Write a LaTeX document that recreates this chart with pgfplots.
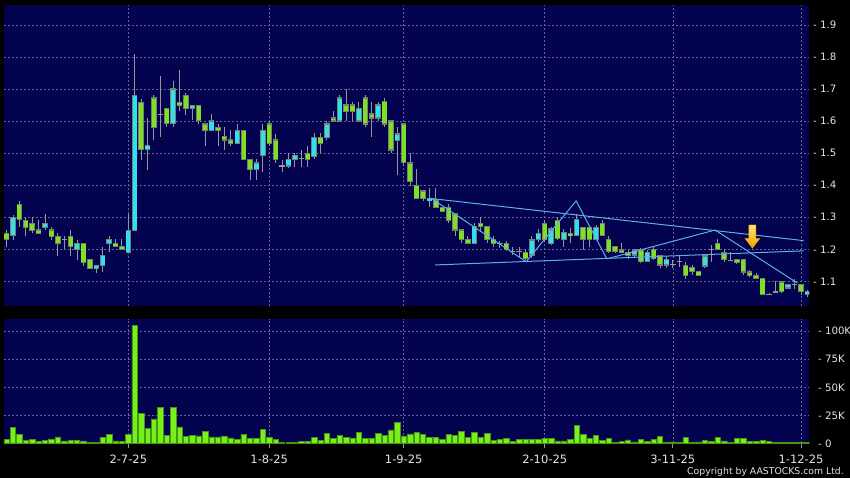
\documentclass[border=0pt]{standalone}
\usepackage{pgfplots}
\pgfplotsset{compat=1.18}
\usepackage{pgfplotstable}
\usepackage{fontspec}
\setmainfont{DejaVu Sans}

\definecolor{navy}{RGB}{2,2,78}
\definecolor{gridc}{RGB}{100,100,140}
\definecolor{upc}{RGB}{45,225,240}
\definecolor{dnc}{RGB}{125,225,35}
\definecolor{wickc}{RGB}{150,150,150}
\definecolor{edgec}{RGB}{120,128,110}
\definecolor{volc}{RGB}{120,240,25}
\definecolor{voledge}{RGB}{70,150,20}
\definecolor{trend}{RGB}{95,175,230}
\definecolor{lbl}{RGB}{228,228,228}
\definecolor{arrtop}{RGB}{255,230,110}
\definecolor{arrbot}{RGB}{240,160,0}

% down (green) candles
\pgfplotstableread{
i o h l c
-19 1.250 1.260 1.208 1.231
-17 1.340 1.351 1.269 1.292
-16 1.290 1.300 1.240 1.269
-15 1.281 1.300 1.250 1.258
-14 1.260 1.290 1.250 1.250
-12 1.260 1.269 1.229 1.241
-11 1.240 1.250 1.179 1.219
-9 1.240 1.260 1.179 1.208
-7 1.218 1.218 1.148 1.158
-6 1.169 1.169 1.141 1.141
-2 1.219 1.231 1.208 1.208
-1 1.209 1.231 1.200 1.200
2 1.658 1.670 1.479 1.511
4 1.672 1.682 1.542 1.581
6 1.640 1.640 1.581 1.592
8 1.658 1.760 1.630 1.648
9 1.680 1.689 1.620 1.640
11 1.648 1.648 1.592 1.601
12 1.591 1.591 1.521 1.571
14 1.581 1.592 1.521 1.571
15 1.551 1.581 1.511 1.541
16 1.541 1.571 1.521 1.531
18 1.571 1.571 1.481 1.481
19 1.481 1.481 1.417 1.450
22 1.591 1.600 1.521 1.531
23 1.541 1.561 1.469 1.479
28 1.500 1.521 1.458 1.481
30 1.550 1.563 1.500 1.531
32 1.610 1.630 1.600 1.600
34 1.650 1.700 1.600 1.630
35 1.650 1.660 1.600 1.630
37 1.672 1.682 1.583 1.591
38 1.622 1.660 1.550 1.610
40 1.660 1.672 1.583 1.591
41 1.600 1.600 1.500 1.510
43 1.591 1.591 1.460 1.471
44 1.469 1.500 1.396 1.411
45 1.400 1.450 1.359 1.359
46 1.382 1.382 1.350 1.359
48 1.354 1.392 1.330 1.331
49 1.331 1.331 1.315 1.319
50 1.330 1.342 1.281 1.290
51 1.310 1.310 1.240 1.260
52 1.260 1.260 1.219 1.231
53 1.231 1.240 1.215 1.219
55 1.281 1.302 1.255 1.271
56 1.271 1.271 1.219 1.231
57 1.231 1.240 1.208 1.219
59 1.219 1.225 1.193 1.200
62 1.190 1.198 1.165 1.172
65 1.281 1.291 1.224 1.231
67 1.290 1.300 1.229 1.234
69 1.250 1.266 1.219 1.242
71 1.268 1.270 1.198 1.231
72 1.268 1.276 1.208 1.231
74 1.281 1.290 1.242 1.242
75 1.231 1.240 1.188 1.193
76 1.208 1.208 1.188 1.193
77 1.198 1.219 1.188 1.191
78 1.191 1.198 1.170 1.182
80 1.198 1.203 1.156 1.162
82 1.200 1.208 1.167 1.172
83 1.179 1.182 1.143 1.151
87 1.150 1.160 1.108 1.117
88 1.142 1.150 1.119 1.131
89 1.131 1.131 1.117 1.117
92 1.218 1.232 1.197 1.200
93 1.188 1.200 1.160 1.168
95 1.168 1.168 1.155 1.160
96 1.168 1.168 1.120 1.129
97 1.129 1.135 1.113 1.117
98 1.119 1.125 1.106 1.108
99 1.108 1.108 1.056 1.058
102 1.098 1.100 1.065 1.067
105 1.090 1.093 1.058 1.069
}\dntab

% up (cyan) candles
\pgfplotstableread{
i o h l c
-18 1.242 1.307 1.229 1.299
-13 1.269 1.309 1.260 1.281
-8 1.200 1.229 1.167 1.218
-5 1.141 1.150 1.127 1.150
-4 1.150 1.208 1.129 1.180
-3 1.219 1.240 1.190 1.231
0 1.191 1.309 1.191 1.258
1 1.258 1.810 1.258 1.680
3 1.511 1.609 1.448 1.523
7 1.592 1.724 1.581 1.700
10 1.640 1.648 1.602 1.648
13 1.571 1.622 1.571 1.600
17 1.531 1.592 1.531 1.571
20 1.450 1.481 1.417 1.469
21 1.492 1.592 1.440 1.571
25 1.460 1.500 1.453 1.481
26 1.481 1.500 1.458 1.492
29 1.490 1.563 1.481 1.550
31 1.550 1.599 1.542 1.591
33 1.600 1.682 1.600 1.672
36 1.600 1.660 1.600 1.640
39 1.610 1.660 1.600 1.650
42 1.540 1.583 1.432 1.560
47 1.351 1.392 1.331 1.359
54 1.219 1.281 1.219 1.271
63 1.182 1.240 1.172 1.229
64 1.231 1.262 1.224 1.250
66 1.219 1.271 1.214 1.263
68 1.231 1.262 1.208 1.252
70 1.242 1.310 1.240 1.292
73 1.231 1.276 1.231 1.268
79 1.182 1.198 1.172 1.198
81 1.162 1.198 1.162 1.191
84 1.151 1.179 1.141 1.169
90 1.148 1.186 1.140 1.179
103 1.079 1.093 1.079 1.090
106 1.058 1.072 1.050 1.067
}\uptab

% doji candles
\pgfplotstableread{
i o h l c
-10 1.231 1.240 1.200 1.231
5 1.622 1.741 1.550 1.622
24 1.460 1.479 1.440 1.460
27 1.484 1.510 1.458 1.484
58 1.219 1.226 1.205 1.219
60 1.193 1.208 1.182 1.193
61 1.193 1.208 1.177 1.193
85 1.153 1.167 1.141 1.153
86 1.162 1.179 1.146 1.162
91 1.200 1.212 1.160 1.200
94 1.166 1.190 1.166 1.166
100 1.060 1.065 1.058 1.060
101 1.068 1.100 1.065 1.068
104 1.090 1.108 1.077 1.090
}\dojitab

% volume (thousands)
\pgfplotstableread{
i v
-19 3.9
-18 14.3
-17 8.0
-16 3.0
-15 3.9
-14 1.8
-13 2.7
-12 4.2
-11 6.0
-10 2.4
-9 3.0
-8 3.0
-7 2.4
-6 1.2
-5 1.2
-4 5.7
-3 8.3
-2 2.4
-1 2.1
0 8.0
1 105
2 26.5
3 13.7
4 22
5 32
6 7.1
7 32
8 14.9
9 6.2
10 7.4
11 6.8
12 11
13 6
14 6
15 6.8
16 5
17 3.9
18 8.3
19 4.8
20 4.8
21 12.5
22 6
23 3.9
24 1.2
25 0.9
26 0.9
27 2.1
28 2.1
29 5.7
30 3
31 9.2
32 4.8
33 7.1
34 5.7
35 5
36 10
37 4.8
38 4.8
39 9.2
40 7.4
41 12.2
42 19
43 6.8
44 8.6
45 9.8
46 8.3
47 5.6
48 5.7
49 3.9
50 7.8
51 6.9
52 11
53 5.7
54 9.9
55 5.7
56 9.3
57 2.7
58 3.9
59 4.8
60 1.8
61 3.9
62 3.9
63 3.9
64 3.9
65 4.8
66 4.8
67 2.4
68 2.4
69 3.9
70 16.4
71 8.1
72 4.5
73 7.2
74 3
75 4.8
76 1.2
77 1.8
78 3.3
79 1.5
80 3.6
81 1.8
82 3.6
83 6.6
84 1.2
85 1.5
86 1.2
87 5.4
88 1.2
89 1.5
90 2.7
91 2.1
92 5.7
93 2.4
94 1.2
95 4.5
96 4.5
97 1.8
98 1.8
99 3
100 2.1
101 1.2
102 1.2
103 0.9
104 0.9
105 1.2
106 1.2
}\voltab

\pgfplotsset{
  candlebase/.style={draw=none, mark=none, forget plot,
    error bars/y dir=both, error bars/y explicit, error bars/error mark=none},
  wick/.style={candlebase, error bars/error bar style={draw=wickc, line width=0.9pt}},
  bodyedge/.style={candlebase, error bars/error bar style={draw=edgec, line width=5.4pt}},
  bodyfill/.style={candlebase, error bars/error bar style={draw=#1, line width=4.2pt}},
}

\begin{document}
\begin{tikzpicture}
\useasboundingbox (0,0) rectangle (850pt,478pt);
\fill[black] (0,0) rectangle (850pt,478pt);

\begin{axis}[
  at={(4pt,172pt)}, anchor=south west,
  scale only axis, width=805.3pt, height=301pt,
  xmin=-19.4, xmax=106.3, ymin=1.0229, ymax=1.9624,
  axis background/.style={fill=navy},
  axis line style={draw=none},
  xtick={0,22,43,65,85,105}, xticklabels={},
  ytick={1.1,1.2,1.3,1.4,1.5,1.6,1.7,1.8,1.9},
  yticklabels={- 1.1,- 1.2,- 1.3,- 1.4,- 1.5,- 1.6,- 1.7,- 1.8,- 1.9},
  ytick pos=right, yticklabel pos=right,
  tick style={draw=none},
  grid=major,
  grid style={draw=gridc, dash pattern=on 2pt off 2pt, line width=0.6pt},
  yticklabel style={font=\fontsize{10.2}{12}\selectfont, text=lbl, anchor=west, inner sep=0pt, xshift=3.6pt},
]
% wicks
\addplot[wick] table[x=i, y expr={(\thisrow{h}+\thisrow{l})/2}, y error expr={(\thisrow{h}-\thisrow{l})/2}] \dntab;
\addplot[wick] table[x=i, y expr={(\thisrow{h}+\thisrow{l})/2}, y error expr={(\thisrow{h}-\thisrow{l})/2}] \uptab;
\addplot[wick] table[x=i, y expr={(\thisrow{h}+\thisrow{l})/2}, y error expr={(\thisrow{h}-\thisrow{l})/2}] \dojitab;
% bodies
\addplot[bodyedge] table[x=i, y expr={(\thisrow{o}+\thisrow{c})/2}, y error expr={abs(\thisrow{o}-\thisrow{c})/2+0.0019}] \dntab;
\addplot[bodyfill=dnc] table[x=i, y expr={(\thisrow{o}+\thisrow{c})/2}, y error expr={max(abs(\thisrow{o}-\thisrow{c})/2-0.0019,0)}] \dntab;
\addplot[bodyedge] table[x=i, y expr={(\thisrow{o}+\thisrow{c})/2}, y error expr={abs(\thisrow{o}-\thisrow{c})/2+0.0019}] \uptab;
\addplot[bodyfill=upc] table[x=i, y expr={(\thisrow{o}+\thisrow{c})/2}, y error expr={max(abs(\thisrow{o}-\thisrow{c})/2-0.0019,0)}] \uptab;
% doji bars
\addplot[candlebase, error bars/error bar style={draw=wickc, line width=5.4pt}] table[x=i, y=o, y error expr={0.0016}] \dojitab;

% trend lines
\addplot[trend, line width=1pt, mark=none] coordinates {(47.0,1.359) (105.4,1.227)};
\addplot[trend, line width=1pt, mark=none] coordinates {(47.9,1.151) (105.4,1.195)};
\addplot[trend, line width=1pt, mark=none] coordinates {(47.3,1.359) (62.1,1.161) (69.9,1.351) (74.7,1.170) (91.6,1.260) (104.4,1.095)};
% arrow
\addplot[draw=arrbot, line width=0.4pt, top color=arrtop, bottom color=arrbot, mark=none]
  coordinates {(96.87,1.2758) (97.97,1.2758) (97.97,1.2343) (98.59,1.2343) (97.42,1.2031) (96.25,1.2343) (96.87,1.2343)} --cycle;
\end{axis}

\begin{axis}[
  at={(4pt,34.5pt)}, anchor=south west,
  scale only axis, width=805.3pt, height=124.5pt,
  xmin=-19.4, xmax=106.3, ymin=0, ymax=110.8,
  axis background/.style={fill=navy},
  axis line style={draw=none},
  xtick={0,22,43,65,85,105},
  xticklabels={2-7-25,1-8-25,1-9-25,2-10-25,3-11-25,1-12-25},
  xtick pos=left,
  ytick={25,50,75,100},
  yticklabels={- 25K,- 50K,- 75K,- 100K},
  extra y ticks={0}, extra y tick labels={- 0},
  extra y tick style={grid=none},
  ytick pos=right, yticklabel pos=right,
  ytick style={draw=none},
  xtick style={draw=wickc, line width=0.8pt},
  tick align=outside, major tick length=5pt,
  grid=major,
  grid style={draw=gridc, dash pattern=on 2pt off 2pt, line width=0.6pt},
  yticklabel style={font=\fontsize{10.2}{12}\selectfont, text=lbl, anchor=west, inner sep=0pt, xshift=3.6pt},
  xticklabel style={font=\fontsize{11.5}{13}\selectfont, text=lbl, yshift=-3pt},
]
\addplot[ybar, bar width=5.4pt, bar shift=0pt, fill=volc, draw=voledge, line width=0.5pt] table[x=i, y=v] \voltab;
\end{axis}

\node[anchor=base east, font=\fontsize{9.3}{11}\selectfont, text=lbl, inner sep=0pt] at (844pt,3.3pt) {Copyright by AASTOCKS.com Ltd.};
\end{tikzpicture}
\end{document}
